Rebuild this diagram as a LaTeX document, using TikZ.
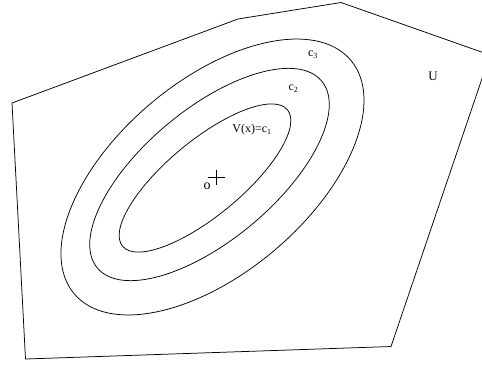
\documentclass[tikz,border=0pt]{standalone}
\usepackage{fontspec}
\setmainfont{Liberation Serif}
\begin{document}
\begin{tikzpicture}[x=1bp,y=-1bp,
  curve/.style={line width=0.75bp, black},
  lbl/.style={inner sep=0pt, font=\fontsize{12}{12}\selectfont}]
\useasboundingbox (0,0) rectangle (482,364);
\clip (0,0) rectangle (482,364);
% region U
\coordinate (p1) at (12,103);
\coordinate (p2) at (238,19);
\coordinate (p3) at (341,2.5);
\coordinate (p4) at (490,55);
\coordinate (p5) at (391,346.5);
\coordinate (p6) at (25.5,359);
\draw[curve, line join=miter] (p1) -- (p2) -- (p3) -- (p4) -- (p5) -- (p6) -- cycle;
% level sets
\coordinate (e3) at (212.5,177);
\coordinate (e2) at (209.5,174.5);
\coordinate (e1) at (205,178);
\draw[curve, rotate around={40.2:(e3)}] (e3) ellipse [x radius=181bp, y radius=96bp];
\draw[curve, rotate around={39.8:(e2)}] (e2) ellipse [x radius=146bp, y radius=65.5bp];
\draw[curve, rotate around={39.6:(e1)}] (e1) ellipse [x radius=107bp, y radius=37.5bp];
% origin cross
\coordinate (o) at (216,177);
\draw[line width=0.75bp] ([xshift=-8.5bp]o) -- ([xshift=8.5bp]o);
\draw[line width=0.75bp] ([yshift=7.5bp]o) -- ([yshift=-7.5bp]o);
% labels
\node[lbl, font=\fontsize{14}{14}\selectfont] (lo) at (207,186.5) {o};
\node[lbl] (lv) at (252,130) {V(x)=c\textsubscript{1}};
\node[lbl] (l2) at (293.5,89) {c\textsubscript{2}};
\node[lbl] (l3) at (313,55) {c\textsubscript{3}};
\node[lbl, font=\fontsize{13}{13}\selectfont] (lu) at (433,76) {U};
\end{tikzpicture}
\end{document}
